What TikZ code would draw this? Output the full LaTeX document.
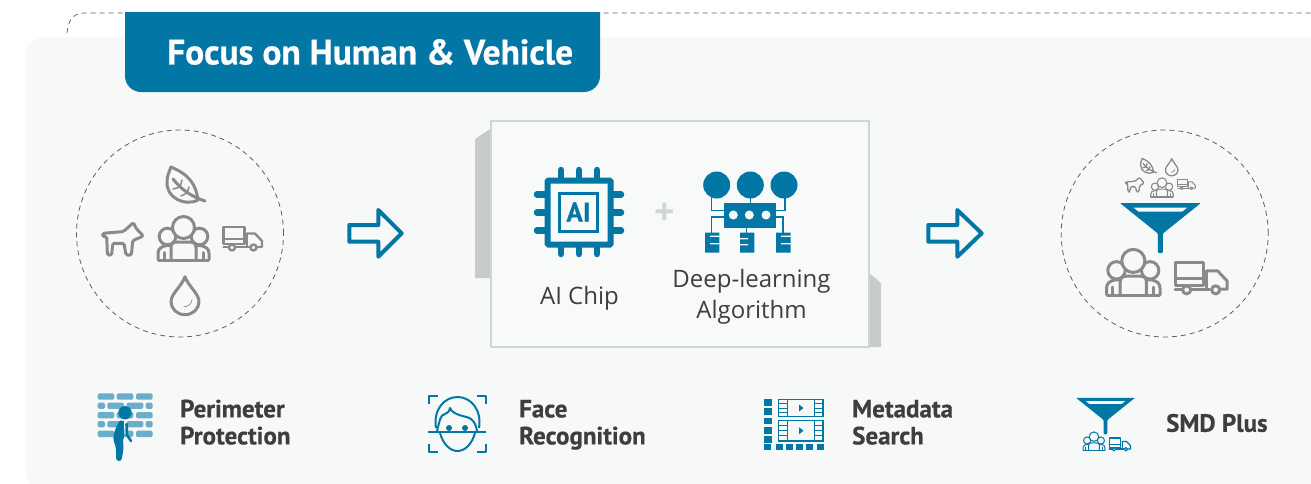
\documentclass[tikz,border=0pt]{standalone}
\usepackage{fontspec}
\setmainfont{Open Sans}
\newfontfamily\titlefam{PT Sans}[FakeBold=0.6]
\newfontfamily\featfam{PT Sans}[FakeBold=0.5]
\definecolor{brand}{HTML}{0277A5}
\definecolor{brick}{HTML}{6AAEC9}
\definecolor{panel}{HTML}{F7F9F9}
\definecolor{boxfill}{HTML}{F8F9F9}
\definecolor{boxline}{HTML}{D2D5D5}
\definecolor{shadeg}{HTML}{C9CBCA}
\definecolor{icong}{HTML}{8A8A8A}
\definecolor{dashg}{HTML}{5E5E5E}
\definecolor{ink}{HTML}{403D3D}
\tikzset{
  x=1pt,y=-1pt,
  dashring/.style={draw=dashg,line width=.8pt,dash pattern=on 5pt off 4pt},
  blockarrow/.style={draw=brand,line width=4pt,line join=round,fill=none},
  greyicon/.style={color=icong,line width=#1,line join=round,line cap=round},
  blueicon/.style={color=brand,line width=#1,line join=round,line cap=round},
  title/.style={text=white,anchor=west,inner sep=0pt,font=\titlefam\bfseries\fontsize{35.4}{36}\selectfont},
  label/.style={text=ink,anchor=center,align=center,inner sep=0pt,font=\fontsize{24}{31}\selectfont},
  feature/.style={text=ink,anchor=west,align=left,inner sep=0pt,font=\featfam\bfseries\fontsize{25}{27}\selectfont},
  crowd/.pic={
    \draw[fill=panel] (-25.5,20) -- (-25.5,14) .. controls (-25.5,9) and (-22,7) .. (-17,6) -- (-12,6) -- (-12,20);
    \draw[fill=panel] (25.5,20) -- (25.5,14) .. controls (25.5,9) and (22,7) .. (17,6) -- (12,6) -- (12,20);
    \draw[fill=panel] (-16,-3) circle (8.3);
    \draw[fill=panel] (16,-3) circle (8.3);
    \draw[fill=panel] (0,-12) circle (11);
    \draw[fill=panel] (-12.5,20) -- (-12.5,8) .. controls (-12.5,4) and (-10,2.5) .. (-6,2.5) -- (6,2.5) .. controls (10,2.5) and (12.5,4) .. (12.5,8) -- (12.5,20);
    \draw (-19.5,20) -- (-19.5,13) (19.5,20) -- (19.5,13);
    \draw (-25,20.5) -- (25,20.5);
  },
  truck/.pic={
    \draw (-19.5,-11) rectangle (1.5,6);
    \draw (-19.5,1) -- (1.5,1);
    \draw (4,-4.5) -- (12,-4.5) -- (19,3) -- (19,9) -- (14.5,9);
    \draw (4,-4.5) -- (4,9) -- (6,9);
    \draw (-19.5,9) -- (-14.5,9) (-7.5,9) -- (6,9);
    \draw (-11,9.5) circle (3) (10.5,9.5) circle (3);
  },
  dog/.pic={
    \draw[rounded corners=1.5pt] (-20,-5) -- (0.7,-6.7) -- (10.7,-15.7) -- (13.3,-10) -- (20.7,-2.3) -- (10,2.3) -- (8.7,16.7) -- (3.3,16.7) -- (1.3,5) -- (-10,5) -- (-11,16.7) -- (-15.3,16.7) -- (-16,-1.7) -- (-20,-1.7) -- cycle;
  },
  leaf/.pic={
    \draw (-13,-18) .. controls (6,-10) and (12,0) .. (14,15) .. controls (0,22) and (-18,12) .. (-17,-3) .. controls (-17,-9) and (-15,-13) .. (-13,-18) -- cycle;
    \draw (-11,-6) .. controls (-3,4) and (6,11) .. (21,16);
    \draw[line width=1.5pt] (-4,2) -- (-2,-5) (-4,2) -- (-11,4) (3,8) -- (5,2) (3,8) -- (-3,11);
  },
  drop/.pic={
    \draw (0,-20) .. controls (-3,-11) and (-14,-3) .. (-14,5) .. controls (-14,12) and (-8,18) .. (0,18) .. controls (8,18) and (14,12) .. (14,5) .. controls (14,-3) and (3,-11) .. (0,-20) -- cycle;
    \draw[line width=.7pt] (-1,10) .. controls (3,10) and (7,7) .. (7,3);
  },
  funnel/.pic={
    \fill[rounded corners=1pt] (-40.5,-25) -- (40.5,-25) -- (2.5,5.5) -- (2.5,25) -- (-2.5,25) -- (-2.5,5.5) -- cycle;
    \fill[panel] (-27,-20.5) -- (27,-20.5) -- (22,-16.5) -- (-22,-16.5) -- cycle;
  },
}
\begin{document}
\begin{tikzpicture}
\useasboundingbox (0,0) rectangle (1311,483);
\fill[white] (0,0) rectangle (1311,483);
% panel
\fill[panel,rounded corners=20pt] (25,37) rectangle (1340,490);
% outer dashed frame
\coordinate (fs) at (67,33);
\coordinate (fe) at (1311,13);
\draw[dashring,line width=.7pt] (fs) .. controls (68,22) and (72,13) .. (84,13) -- (fe);
% header
\path[fill=brand,rounded corners=16pt] (125,-20) rectangle (600,92);
\fill[white] (120,-25) rectangle (605,12);
\node[title] (ttl) at (167,52) {Focus on Human \& Vehicle};
% circles
\node[dashring,circle,minimum size=207pt,inner sep=0pt] (cl) at (180,233.5) {};
\node[dashring,circle,minimum size=207pt,inner sep=0pt] (cr) at (1164.7,233.5) {};
% left icons
\pic[greyicon=3pt] at (184,185) {leaf};
\pic[greyicon=3pt] at (122.7,238.3) {dog};
\pic[greyicon=3pt] at (183.5,239.5) {crowd};
\pic[greyicon=2.4pt,scale=1.0] at (243,238) {truck};
\pic[greyicon=3pt] at (185,296.7) {drop};
% arrows
\draw[blockarrow] (349.3,225) -- (378.3,225) -- (378.3,210) -- (401.7,233.3) -- (378.3,256.7) -- (378.3,241.7) -- (349.3,241.7) -- cycle;
\draw[blockarrow] (928.3,225) -- (957.3,225) -- (957.3,210) -- (981.7,233.3) -- (957.3,256.7) -- (957.3,241.7) -- (928.3,241.7) -- cycle;
% central box
\fill[shadeg] (490,129) -- (475,139) -- (475,278) -- (490,278) -- cycle;
\fill[shadeg] (869,273) -- (881,283) -- (881,347) -- (869,347) -- cycle;
\node[draw=boxline,fill=boxfill,line width=2pt,minimum width=378pt,minimum height=226pt,inner sep=0pt] (bx) at (679.5,233.5) {};
% chip
\begin{scope}[brand]
\foreach \d in {-18,0,18}{
  \draw[line width=6.5pt,line cap=round] (579+\d,170) -- (579+\d,254);
  \draw[line width=6.5pt,line cap=round] (537,212.5+\d) -- (621,212.5+\d);
}
\draw[line width=6pt,rounded corners=1pt,fill=boxfill] (547.5,180.5) rectangle (610.5,244.5);
\draw[line width=3.5pt] (559.5,193.5) rectangle (597.5,231.5);
\end{scope}
\node[text=brand,inner sep=0pt,font=\featfam\bfseries\fontsize{27}{28}\selectfont] (ai) at (578.5,212) {AI};
\node[text=boxline,inner sep=0pt,font=\bfseries\fontsize{36}{36}\selectfont] (pl) at (664.5,214) {+};
% algorithm icon
\begin{scope}[brand]
\draw[line width=1.3pt] (711.7,190) -- (711.7,210.5) -- (730,210.5) (711.7,240) -- (711.7,217) -- (730,217);
\draw[line width=1.3pt] (785,190) -- (785,210.5) -- (770,210.5) (783,240) -- (783,217) -- (770,217);
\draw[line width=1.5pt] (750.5,190) -- (750.5,210) (746.7,225) -- (746.7,240);
\fill (716.7,185) circle (13.5) (750.3,185) circle (13.5) (784,185) circle (13.5);
\fill (724.3,203.3) rectangle (775.7,228.3);
\fill[boxfill] (733.3,215) circle (4.5) (749.3,215) circle (4.5) (766,215) circle (4.5);
\fill (705,232.7) rectangle (719.3,252.7) (740,232.7) rectangle (754.3,252.7) (776,232.7) rectangle (790.7,252.7);
\fill[boxfill] (710,235.5) rectangle (719.8,236.8) (710,243) rectangle (719.8,244.3);
\fill[boxfill] (739.5,238) rectangle (748,239.3) (739.5,244) rectangle (748,245.3);
\fill[boxfill] (781,235.5) rectangle (791.2,236.8) (781,243) rectangle (791.2,244.3);
\end{scope}
\node[label] (chiplab) at (579.5,298) {AI Chip};
\node[label] (alglab) at (751.5,297) {Deep-learning\\Algorithm};
% right icons
\pic[greyicon=1.3pt,scale=.42] at (1147.7,166) {leaf};
\pic[greyicon=1.3pt,scale=.45] at (1171.7,167.7) {drop};
\pic[greyicon=1.3pt,scale=.46] at (1135,184.3) {dog};
\pic[greyicon=1.1pt,scale=.44] at (1162,188) {crowd};
\pic[greyicon=1pt,scale=.45] at (1186.7,184) {truck};
\pic[blueicon=.5pt] at (1160.4,228) {funnel};
\pic[greyicon=3pt,scale=1.05] at (1133.3,273.5) {crowd};
\pic[greyicon=3pt,scale=1.35] at (1201.5,277) {truck};
% bottom: bricks
\begin{scope}[brick]
\foreach \y in {393.3,412,430.7}{
  \fill[rounded corners=1.5pt] (97.7,\y) rectangle +(16.6,6.4);
  \fill[rounded corners=1.5pt] (116.7,\y) rectangle +(16.6,6.4);
  \fill[rounded corners=1.5pt] (136,\y) rectangle +(16.7,6.4);
}
\foreach \y in {402.5,421}{
  \fill[rounded corners=1.5pt] (97.7,\y) rectangle +(7.3,6.4);
  \fill[rounded corners=1.5pt] (107.3,\y) rectangle +(16.6,6.4);
  \fill[rounded corners=1.5pt] (126.7,\y) rectangle +(16.6,6.4);
  \fill[rounded corners=1.5pt] (145.7,\y) rectangle +(7,6.4);
}
\end{scope}
\begin{scope}[brand]
\fill (125,412.7) circle (6.7);
\fill (120,420.5) .. controls (115,428) and (112,437) .. (114,442) .. controls (117,449) and (116,454) .. (116,458) .. controls (116,462) and (122,462) .. (122,458) .. controls (123,452) and (124,447) .. (123,441) .. controls (125,435) and (125,428) .. (124,421) -- cycle;
\draw[panel,line width=1pt] (124.5,422) -- (125,434);
\draw[line width=2.6pt,line cap=round] (126.5,424) -- (127,435) -- (131,441);
\end{scope}
% face
\begin{scope}[blueicon=2pt,line cap=butt]
\draw (428.5,404.3) -- (428.5,396) -- (438.3,396) (476.7,396) -- (486,396) -- (486,404.3);
\draw (428.5,444.3) -- (428.5,452) -- (438.3,452) (476.7,452) -- (486,452) -- (486,444.3);
\draw (428.3,431.7) -- (486,431.7);
\draw (436,428) .. controls (433,410) and (444,397) .. (457.5,397) .. controls (471,397) and (482,410) .. (479,428);
\draw (440,433) .. controls (443,444) and (450,451) .. (457.5,451) .. controls (465,451) and (472,444) .. (475,433);
\draw (437,431) .. controls (440,420) and (440,415) .. (445,414) .. controls (449,412) and (450,410) .. (450,408) .. controls (453,416) and (468,416) .. (471,419) .. controls (475,422) and (476,426) .. (477,431);
\fill (449,428) circle (3) (465,428) circle (3);
\end{scope}
% metadata
\begin{scope}[brand]
\foreach \y in {399,408.3,417.6,426.9,436.2}{\fill (764,\y) rectangle +(7.6,6.6);}
\foreach \x in {764,775.5,785.8,795.8,806.1,816.5}{\fill (\x,443.5) rectangle +(7,6.8);}
\foreach \y/\h in {399.5/17,420.5/20.5}{
  \draw[line width=1.4pt] (778.5,\y) rectangle +(44.5,\h);
  \draw[line width=1pt] (787,\y) -- +(0,\h) (814.5,\y) -- +(0,\h);
  \foreach \k in {.25,.5,.75}{
    \draw[line width=.8pt] (778.5,\y+\k*\h) -- +(8.5,0) (814.5,\y+\k*\h) -- +(8.5,0);
  }
  \fill (799,\y+.5*\h-3.5) -- +(0,7) -- +(4.5,3.5) -- cycle;
}
\end{scope}
% smd
\pic[blueicon=.5pt,scale=.73] at (1105.5,416) {funnel};
\pic[blueicon=1pt,scale=.43] at (1094,441.8) {crowd};
\pic[blueicon=1.2pt,scale=.55] at (1120,444) {truck};
% feature labels
\node[feature] (f1) at (180,425.5) {Perimeter\strut\\Protection\strut};
\node[feature] (f2) at (519,425.5) {Face\strut\\Recognition\strut};
\node[feature] (f3) at (852,425.5) {Metadata\strut\\Search\strut};
\node[feature] (f4) at (1166,423) {SMD Plus};
\end{tikzpicture}
\end{document}
